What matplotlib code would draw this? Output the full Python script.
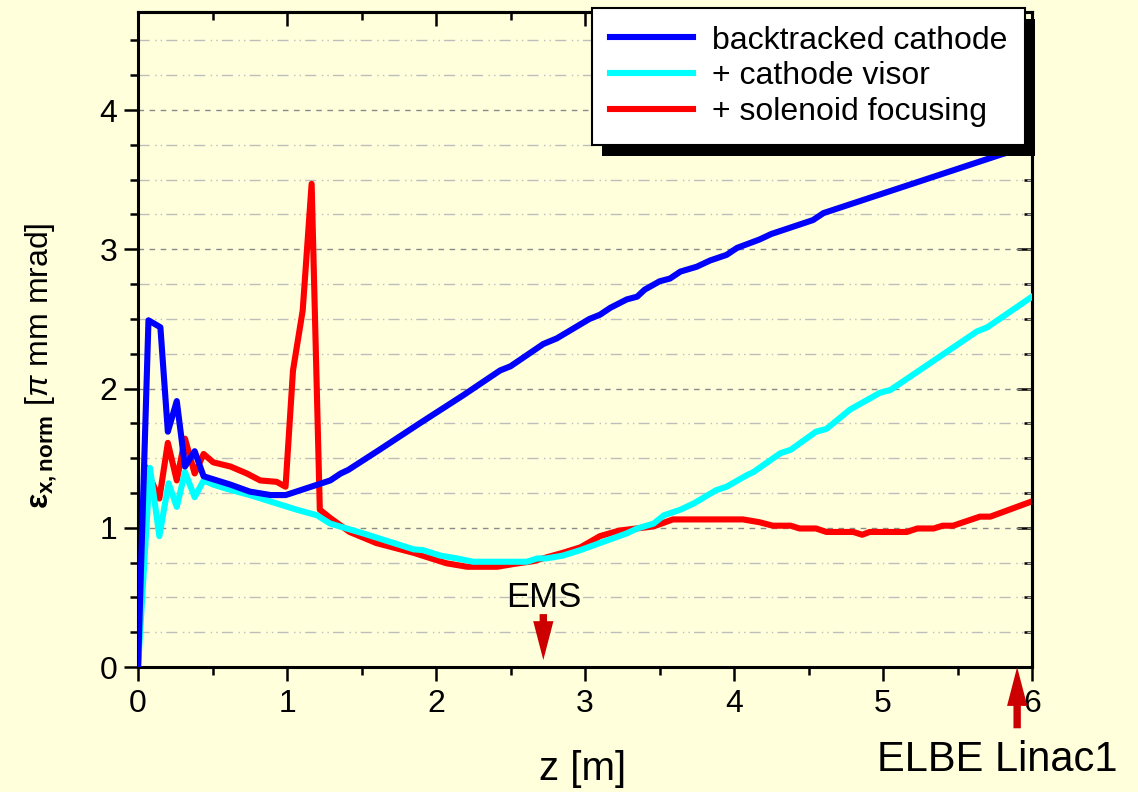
import matplotlib
matplotlib.use("Agg")
import matplotlib.pyplot as plt
from matplotlib.patches import Rectangle
from matplotlib.ticker import MultipleLocator

plt.rcParams['font.family'] = ['Liberation Sans', 'DejaVu Sans']
plt.rcParams['mathtext.fontset'] = 'custom'
plt.rcParams['mathtext.rm'] = 'Liberation Sans'
plt.rcParams['mathtext.it'] = 'Liberation Sans:italic'
plt.rcParams['mathtext.bf'] = 'Liberation Sans:bold'

# backtracked cathode
z_blue = [0, 0.07, 0.15, 0.20, 0.26, 0.315, 0.38, 0.44, 0.62, 0.75, 0.89, 0.99,
          1.02, 1.29, 1.36, 1.41, 1.62, 1.89, 2.18, 2.43, 2.50, 2.72, 2.81, 2.92,
          3.03, 3.10, 3.17, 3.28, 3.35, 3.40, 3.50, 3.57, 3.64, 3.75, 3.84, 3.95,
          4.02, 4.17, 4.25, 4.53, 4.60, 5.79, 6.0]
e_blue = [0, 2.49, 2.44, 1.69, 1.91, 1.44, 1.55, 1.37, 1.31, 1.26, 1.235, 1.235,
          1.245, 1.34, 1.39, 1.415, 1.56, 1.75, 1.95, 2.13, 2.16, 2.32, 2.36, 2.43,
          2.50, 2.53, 2.58, 2.64, 2.66, 2.71, 2.77, 2.79, 2.84, 2.875, 2.92, 2.96,
          3.01, 3.07, 3.11, 3.21, 3.26, 3.68, 3.75]

# + cathode visor
z_cyan = [0, 0.08, 0.143, 0.205, 0.26, 0.315, 0.38, 0.44, 0.505, 0.595, 0.75, 0.93,
          1.065, 1.20, 1.29, 1.51, 1.85, 1.91, 2.03, 2.14, 2.25, 2.61, 2.68, 2.74,
          2.85, 2.97, 3.28, 3.35, 3.46, 3.53, 3.64, 3.73, 3.88, 3.95, 4.09, 4.13,
          4.31, 4.38, 4.55, 4.62, 4.78, 4.98, 5.05, 5.63, 5.70, 6.0]
e_cyan = [0, 1.43, 0.94, 1.32, 1.15, 1.40, 1.22, 1.34, 1.31, 1.28, 1.235, 1.175,
          1.13, 1.09, 1.03, 0.96, 0.845, 0.84, 0.80, 0.78, 0.756, 0.756, 0.78, 0.78,
          0.80, 0.84, 0.96, 0.995, 1.03, 1.09, 1.13, 1.175, 1.27, 1.295, 1.38, 1.40,
          1.535, 1.56, 1.69, 1.71, 1.85, 1.97, 1.99, 2.41, 2.44, 2.66]

# + solenoid focusing
z_red = [0, 0.047, 0.143, 0.20, 0.26, 0.315, 0.38, 0.44, 0.505, 0.62, 0.73, 0.82,
         0.93, 0.99, 1.04, 1.105, 1.165, 1.22, 1.29, 1.42, 1.60, 1.85, 2.07, 2.21,
         2.41, 2.52, 2.65, 2.85, 2.97, 3.10, 3.23, 3.46, 3.59, 4.06, 4.17, 4.26,
         4.38, 4.44, 4.55, 4.62, 4.80, 4.86, 4.91, 5.16, 5.23, 5.34, 5.40, 5.47,
         5.65, 5.72, 6.0]
e_red = [0, 1.44, 1.21, 1.61, 1.34, 1.64, 1.39, 1.53, 1.47, 1.44, 1.39, 1.34,
         1.33, 1.295, 2.13, 2.56, 3.47, 1.13, 1.07, 0.97, 0.89, 0.82, 0.745, 0.72,
         0.72, 0.74, 0.76, 0.82, 0.86, 0.94, 0.98, 1.01, 1.06, 1.06, 1.04, 1.015,
         1.015, 0.995, 0.995, 0.97, 0.97, 0.95, 0.97, 0.97, 0.995, 0.995, 1.015, 1.015,
         1.08, 1.08, 1.19]

labels = ['backtracked cathode', '+ cathode visor', '+ solenoid focusing']
z_ems = 2.72
z_linac = 5.9

bg = '#FFFFDC'
arrow_red = '#CC0000'

fig = plt.figure(figsize=(11.38, 7.92), dpi=100, facecolor=bg)
ax = fig.add_axes([0.1213, 0.1578, 0.7856, 0.8270], facecolor=bg)

l_red, = ax.plot(z_red, e_red, color='#FF0000', lw=4.4, zorder=2,
                 solid_joinstyle='round')
l_cyan, = ax.plot(z_cyan, e_cyan, color='#00FFFF', lw=4.4, zorder=3,
                  solid_joinstyle='round')
l_blue, = ax.plot(z_blue, e_blue, color='#0000FF', lw=4.4, zorder=4,
                  solid_joinstyle='round')

ax.set_xlim(0, 6)
ax.set_ylim(0, 4.704)
ax.xaxis.set_major_locator(MultipleLocator(1))
ax.xaxis.set_minor_locator(MultipleLocator(0.5))
ax.yaxis.set_major_locator(MultipleLocator(1))
ax.yaxis.set_minor_locator(MultipleLocator(0.25))

# grid: dark dashed on major, light dash-dot on minor (horizontal only)
ax.grid(True, axis='y', which='major', color='#8a8a8a', lw=1.0,
        linestyle=(0, (4, 4)), zorder=0)
ax.grid(True, axis='y', which='minor', color='#bdbdbd', lw=1.0,
        linestyle=(0, (8, 4, 1, 3, 1, 3)), zorder=0)
ax.set_axisbelow(True)

for s in ax.spines.values():
    s.set_linewidth(2.2)

ax.tick_params(which='both', direction='out', width=1.8, labelsize=23,
               top=False, right=False)
ax.tick_params(which='major', length=10)
ax.tick_params(which='minor', length=6)
ax.tick_params(axis='x', pad=6)
ax.tick_params(axis='y', pad=5)

# inward ticks on top and right
sec_x = ax.secondary_xaxis('top')
sec_x.xaxis.set_major_locator(MultipleLocator(1))
sec_x.xaxis.set_minor_locator(MultipleLocator(0.5))
sec_x.tick_params(which='both', direction='in', width=1.8, labeltop=False)
sec_x.tick_params(which='major', length=10)
sec_x.tick_params(which='minor', length=6)
sec_x.spines['top'].set_linewidth(2.2)
sec_y = ax.secondary_yaxis('right')
sec_y.yaxis.set_major_locator(MultipleLocator(1))
sec_y.yaxis.set_minor_locator(MultipleLocator(0.25))
sec_y.tick_params(which='both', direction='in', width=1.8, labelright=False)
sec_y.tick_params(which='major', length=11)
sec_y.tick_params(which='minor', length=6)
sec_y.spines['right'].set_linewidth(2.2)

ax.set_xlabel('z [m]', fontsize=29, va='center')
ax.xaxis.set_label_coords(0.497, -0.155)
ax.set_ylabel(r'$\mathbf{ε_{x,norm}}$ [$\pi$ mm mrad]', fontsize=23,
              va='center')
ax.yaxis.set_label_coords(-0.108, 0.46)

# markers for EMS and ELBE Linac1
arrow_kw = dict(arrowstyle='simple,head_length=1.0,head_width=0.52,tail_width=0.19',
                color=arrow_red, lw=0, mutation_scale=28, shrinkA=0, shrinkB=0)
ax.annotate('', xy=(z_ems, 0.05), xytext=(z_ems, 0.38),
            arrowprops=arrow_kw, annotation_clip=False, zorder=6)
ax.text(z_ems, 0.50, 'EMS', fontsize=25, ha='center', va='center')
ax.annotate('', xy=(z_linac, 0.0), xytext=(z_linac, -0.44),
            arrowprops=arrow_kw, annotation_clip=False, zorder=6)
ax.text(4.96, -0.668, 'ELBE Linac1', fontsize=30, ha='left', va='center',
        clip_on=False)

leg = fig.legend([l_blue, l_cyan, l_red], labels, loc='upper right',
                 bbox_to_anchor=(0.9007, 0.9899), borderaxespad=0,
                 fontsize=23, handlelength=2.6, handletextpad=0.6,
                 labelspacing=0.18, borderpad=0.55, fancybox=False,
                 framealpha=1, facecolor='white', edgecolor='black')
leg.get_frame().set_linewidth(1.5)
leg.set_zorder(10)

# hard black drop shadow behind the legend box
fig.canvas.draw()
bb = leg.get_window_extent()
shadow = Rectangle((bb.x0 + 10, bb.y0 - 11), bb.width, bb.height,
                   transform=None, facecolor='black', edgecolor='none',
                   zorder=9)
fig.patches.append(shadow)

fig.savefig('out.png', dpi=100, facecolor=bg)
